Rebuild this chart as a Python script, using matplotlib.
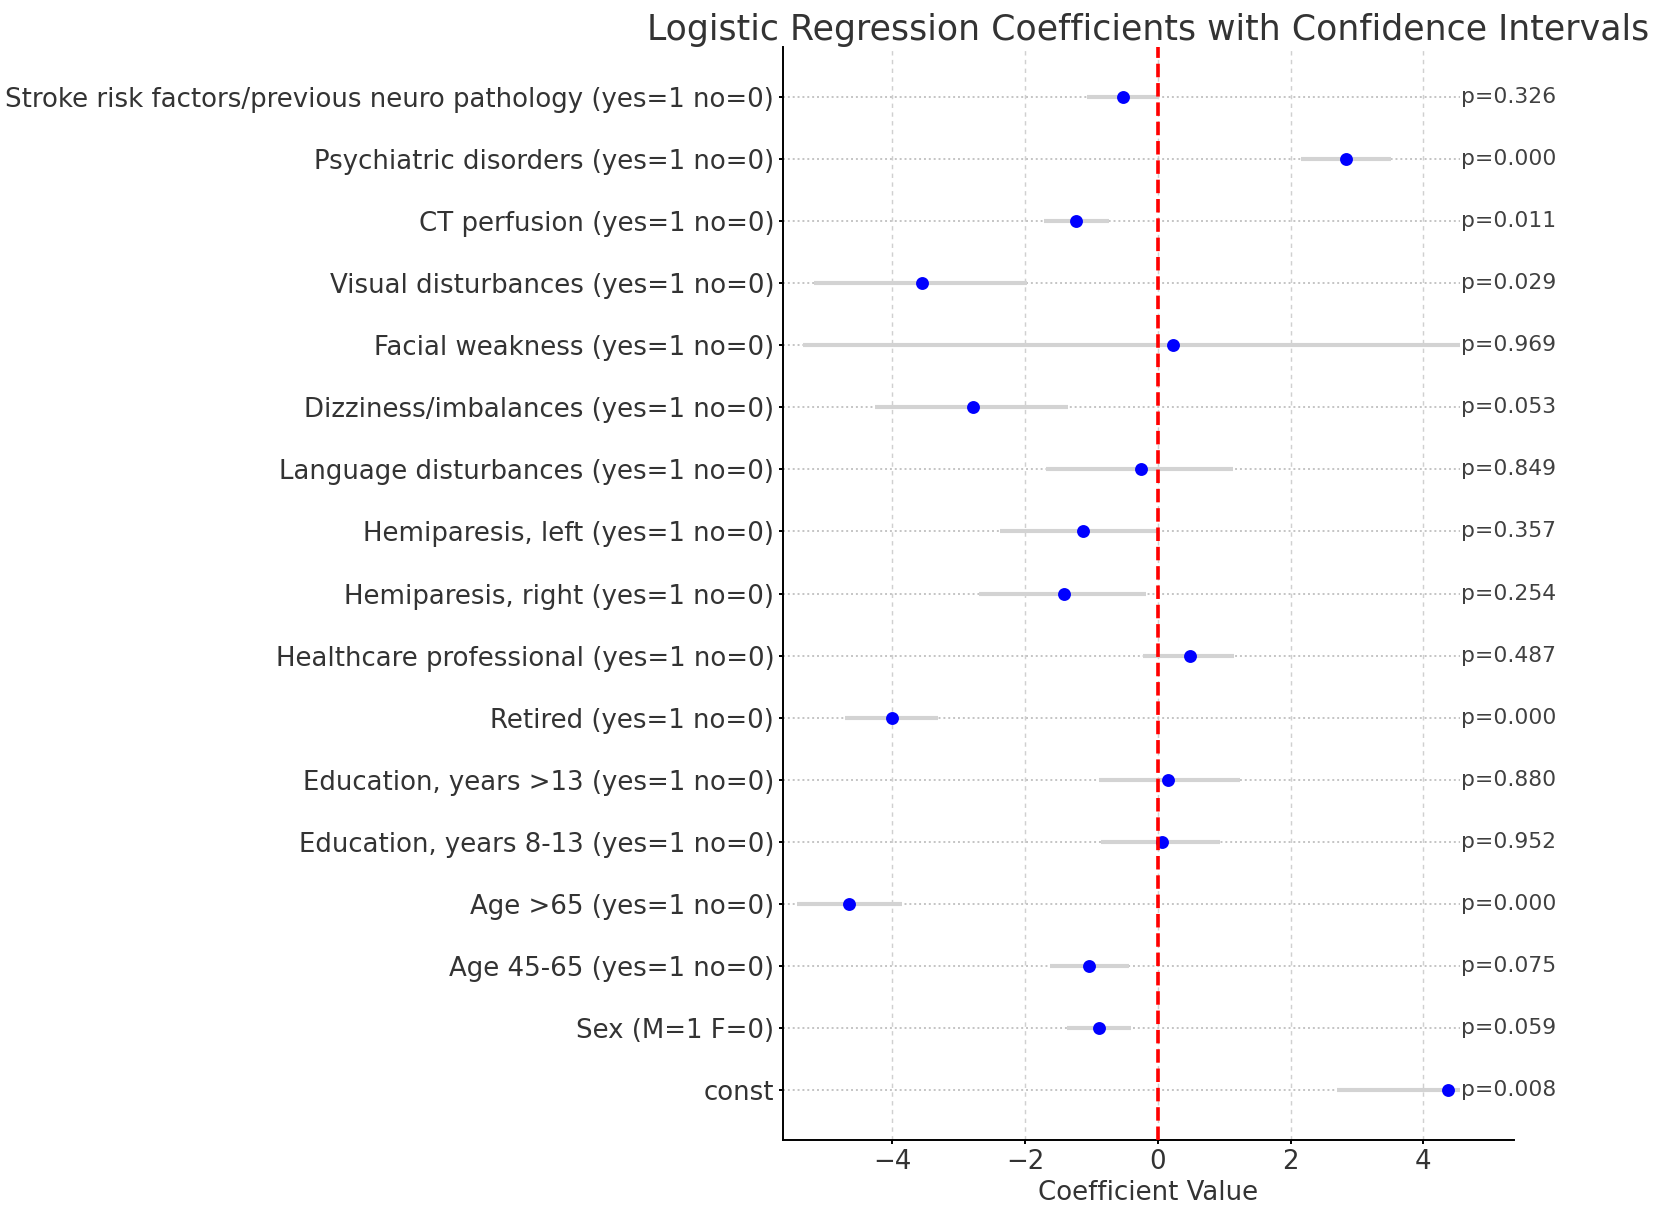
import matplotlib.pyplot as plt

# order follows the model params (const first -> drawn at the bottom)
variables = [
    "const",
    "Sex (M=1 F=0)",
    "Age 45-65 (yes=1 no=0)",
    "Age >65 (yes=1 no=0)",
    "Education, years 8-13 (yes=1 no=0)",
    "Education, years >13 (yes=1 no=0)",
    "Retired (yes=1 no=0)",
    "Healthcare professional (yes=1 no=0)",
    "Hemiparesis, right (yes=1 no=0)",
    "Hemiparesis, left (yes=1 no=0)",
    "Language disturbances (yes=1 no=0)",
    "Dizziness/imbalances (yes=1 no=0)",
    "Facial weakness (yes=1 no=0)",
    "Visual disturbances (yes=1 no=0)",
    "CT perfusion (yes=1 no=0)",
    "Psychiatric disorders (yes=1 no=0)",
    "Stroke risk factors/previous neuro pathology (yes=1 no=0)",
]
coef = [4.37, -0.88, -1.04, -4.66, 0.06, 0.16, -4.01, 0.49, -1.42, -1.13,
        -0.26, -2.79, 0.23, -3.55, -1.24, 2.84, -0.52]
ci_lower = [2.70, -1.37, -1.62, -5.44, -0.86, -0.89, -4.71, -0.23, -2.70, -2.38,
            -1.68, -4.27, -5.35, -5.19, -1.72, 2.16, -1.07]
ci_upper = [6.00, -0.41, -0.43, -3.85, 0.94, 1.24, -3.32, 1.15, -0.18, 0.01,
            1.14, -1.35, 5.90, -1.97, -0.74, 3.52, 0.02]
p_values = [0.008, 0.059, 0.075, 0.000, 0.952, 0.880, 0.000, 0.487, 0.254, 0.357,
            0.849, 0.053, 0.969, 0.029, 0.011, 0.000, 0.326]

fig = plt.figure(figsize=(1654 / 175, 1212 / 175), dpi=175)
ax = fig.add_axes([0.4734, 0.0594, 0.9154 - 0.4734, 0.9612 - 0.0594])

ypos = list(range(len(variables)))
ax.hlines(ypos, ci_lower, ci_upper, color="lightgray", lw=1.7, zorder=2)
ax.plot(coef, ypos, "o", color="blue", ms=4.3, zorder=3)
ax.axvline(0, color="red", linestyle="--", lw=1.5, zorder=4)

for y, p in zip(ypos, p_values):
    ax.text(4.57, y, f"p={p:.3f}", va="center", ha="left", fontsize=9, color="0.25",
            bbox=dict(facecolor="white", edgecolor="none", pad=0.5), zorder=5)

ax.set_yticks(ypos)
ax.set_yticklabels(variables)
ax.set_xticks([-4, -2, 0, 2, 4])
ax.set_xlim(-5.65, 5.37)
ax.set_ylim(-0.8, 16.8)
ax.set_xlabel("Coefficient Value", color="0.2", fontsize=10.7, labelpad=2)
ax.set_title("Logistic Regression Coefficients with Confidence Intervals",
             fontsize=14.3, color="0.2", pad=2.5)

ax.grid(axis="x", linestyle=(0, (3, 3)), color="#d0d0d0", lw=0.6)
ax.grid(axis="y", linestyle=(0, (1, 1.5)), color="#c4c4c4", lw=0.8)
ax.set_axisbelow(True)
ax.spines["top"].set_visible(False)
ax.spines["right"].set_visible(False)
ax.tick_params(labelcolor="0.2", labelsize=10.7, length=1.8, pad=1.8)

plt.savefig("out.png", dpi=175)
